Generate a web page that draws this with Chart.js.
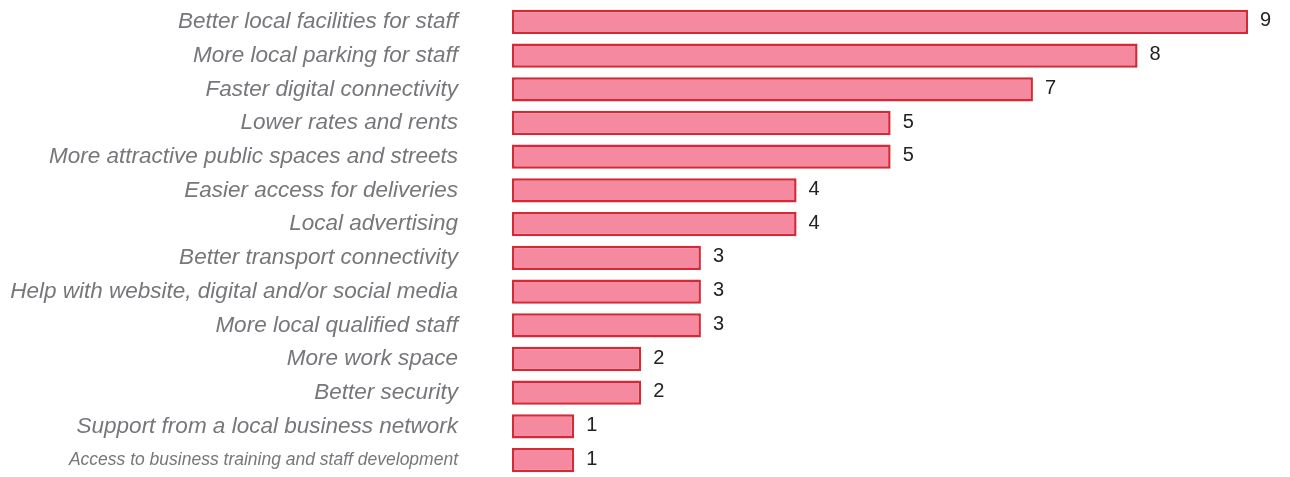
<!DOCTYPE html>
<html>
<head>
<meta charset="utf-8">
<script src="https://cdn.jsdelivr.net/npm/chart.js@4"></script>
<style>
  html, body { margin: 0; padding: 0; background: #fff; overflow: hidden; }
  canvas { display: block; }
</style>
</head>
<body>
<canvas id="chart" width="1290" height="477"></canvas>
<script>
const categories = [
  'Better local facilities for staff',
  'More local parking for staff',
  'Faster digital connectivity',
  'Lower rates and rents',
  'More attractive public spaces and streets',
  'Easier access for deliveries',
  'Local advertising',
  'Better transport connectivity',
  'Help with website, digital and/or social media',
  'More local qualified staff',
  'More work space',
  'Better security',
  'Support from a local business network',
  'Access to business training and staff development'
];
// numbers printed next to the bars
const counts = [9, 8, 7, 5, 5, 4, 4, 3, 3, 3, 2, 2, 1, 1];
// bar lengths as drawn in the picture (same scale, 9 = full bar)
const barLengths = [9, 7.65, 6.37, 4.63, 4.63, 3.48, 3.48, 2.31, 2.31, 2.31, 1.58, 1.58, 0.76, 0.76];

const valueLabels = {
  id: 'valueLabels',
  afterDatasetsDraw(chart) {
    const ctx = chart.ctx;
    const meta = chart.getDatasetMeta(0);
    ctx.save();
    ctx.font = '20px "Liberation Sans", Arial, sans-serif';
    ctx.fillStyle = '#222';
    ctx.textAlign = 'left';
    ctx.textBaseline = 'middle';
    meta.data.forEach((bar, i) => {
      ctx.fillText(String(counts[i]), bar.x + 12, bar.y - 1);
    });
    ctx.restore();
  }
};

new Chart(document.getElementById('chart'), {
  type: 'bar',
  data: {
    labels: categories,
    datasets: [{
      data: barLengths,
      backgroundColor: '#f4899f',
      borderColor: '#d42a36',
      borderWidth: 2.5,
      borderSkipped: false,
      barPercentage: 0.72,
      categoryPercentage: 1
    }]
  },
  options: {
    indexAxis: 'y',
    responsive: false,
    animation: false,
    layout: { padding: { top: 5, bottom: 0, left: 0, right: 42 } },
    scales: {
      x: { display: false, min: 0, max: 9 },
      y: {
        grid: { display: false, drawTicks: false },
        border: { display: false },
        afterFit: (scale) => {
          scale.width = 512;
          // tick padding would otherwise be added above and below the axis
          scale.paddingTop = 0;
          scale.paddingBottom = 0;
        },
        ticks: {
          padding: 54,
          color: '#77777b',
          autoSkip: false,
          font: (c) => ({
            family: '"Liberation Sans", Arial, sans-serif',
            style: 'italic',
            size: c.index === 13 ? 17.5 : 22.5
          })
        }
      }
    },
    plugins: {
      legend: { display: false },
      tooltip: { enabled: false }
    }
  },
  plugins: [valueLabels]
});
</script>
</body>
</html>
